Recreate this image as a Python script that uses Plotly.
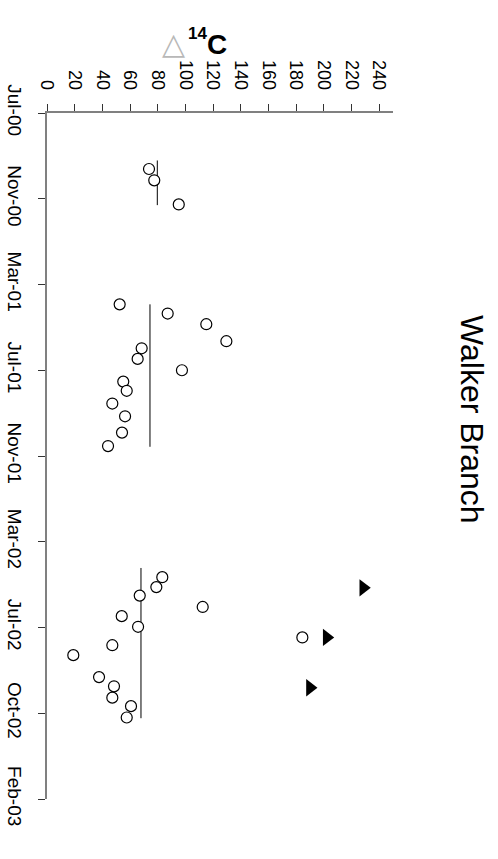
import plotly.graph_objects as go

# ---- data ----
circle_dates = [
    "2000-09-22", "2000-10-08", "2000-11-11",
    "2001-04-01", "2001-04-14", "2001-04-29", "2001-05-23", "2001-06-02", "2001-06-17",
    "2001-07-03", "2001-07-19", "2001-08-01", "2001-08-19", "2001-09-06", "2001-09-29",
    "2001-10-18",
    "2002-04-21", "2002-05-05", "2002-05-17", "2002-06-02", "2002-06-15", "2002-06-30",
    "2002-07-15", "2002-07-26", "2002-08-09", "2002-09-09", "2002-09-22", "2002-10-08",
    "2002-10-20", "2002-11-05",
]
circle_values = [
    73.7, 77.5, 95.2,
    52.5, 87.2, 115.1, 129.6, 68.4, 65.5,
    97.5, 55.1, 57.6, 47.2, 56.4, 54.2,
    44.1,
    83.3, 79.0, 67.0, 112.5, 54.0, 65.8,
    184.5, 47.2, 19.0, 37.6, 48.4, 47.2,
    60.7, 57.6,
]

triangle_dates = ["2002-05-06", "2002-07-15", "2002-09-24"]
triangle_values = [228.5, 202.1, 190.0]

mean_starts = ["2000-09-10", "2001-04-01", "2002-04-08"]
mean_ends = ["2000-11-12", "2001-10-19", "2002-11-06"]
mean_values = [79.7, 74.4, 67.9]

date_tick_vals = ["2000-07-05", "2000-11-03", "2001-03-04", "2001-07-03", "2001-11-01",
                  "2002-03-02", "2002-07-01", "2002-10-30", "2003-02-28"]
date_tick_text = ["Jul-00", "Nov-00", "Mar-01", "Jul-01", "Nov-01",
                  "Mar-02", "Jul-02", "Oct-02", "Feb-03"]
value_ticks = [0, 20, 40, 60, 80, 100, 120, 140, 160, 180, 200, 220, 240]

FONT = "Liberation Sans, Arial, sans-serif"

fig = go.Figure()

for s, e, v in zip(mean_starts, mean_ends, mean_values):
    fig.add_trace(go.Scatter(x=[v, v], y=[s, e], mode="lines",
                             line=dict(color="black", width=1), hoverinfo="skip"))

fig.add_trace(go.Scatter(
    x=circle_values, y=circle_dates, mode="markers",
    marker=dict(symbol="circle", size=11, color="white",
                line=dict(color="black", width=1.2))))

fig.add_trace(go.Scatter(
    x=triangle_values, y=triangle_dates, mode="markers",
    marker=dict(symbol="triangle-right", size=15, color="black",
                line=dict(color="black", width=0))))

fig.update_layout(
    width=498, height=859,
    margin=dict(l=47, r=105, t=113, b=60),
    paper_bgcolor="white", plot_bgcolor="white",
    showlegend=False,
    font=dict(family=FONT, color="black"),
    xaxis=dict(
        range=[0, 250], side="top", automargin=False,
        tickmode="array", tickvals=value_ticks,
        ticktext=[str(v) for v in value_ticks],
        tickangle=90, ticks="outside", ticklen=7, tickcolor="#333", tickwidth=1,
        showline=True, linecolor="#808080", linewidth=1.5,
        showgrid=False, zeroline=False,
        tickfont=dict(family=FONT, size=18, color="black"),
        ticklabelstandoff=8,
    ),
    yaxis=dict(
        type="date", automargin=False,
        range=["2003-02-28", "2000-07-05"],
        tickmode="array", tickvals=date_tick_vals, ticktext=date_tick_text,
        tickangle=90, ticks="outside", ticklen=7, tickcolor="#333", tickwidth=1,
        showline=True, linecolor="#808080", linewidth=1.5,
        showgrid=False, zeroline=False,
        tickfont=dict(family=FONT, size=19, color="black"),
        ticklabelstandoff=7,
    ),
)

def px_x(px):
    return (px - 47) / 346.0

def px_y(py):
    return (799 - py) / 686.0

fig.add_annotation(text="Walker Branch", textangle=90, showarrow=False,
                   xref="paper", yref="paper", x=px_x(472), y=px_y(419),
                   xanchor="center", yanchor="middle",
                   font=dict(family=FONT, size=32, color="black"))

fig.add_annotation(text="△", showarrow=False,
                   xref="paper", yref="paper", x=px_x(173), y=px_y(44),
                   xanchor="center", yanchor="middle",
                   font=dict(family="DejaVu Sans", size=30, color="#b8b8b8"))
fig.add_annotation(text="<b>14</b>", showarrow=False,
                   xref="paper", yref="paper", x=px_x(197), y=px_y(33),
                   xanchor="center", yanchor="middle",
                   font=dict(family=FONT, size=17, color="black"))
fig.add_annotation(text="<b>C</b>", showarrow=False,
                   xref="paper", yref="paper", x=px_x(217), y=px_y(45),
                   xanchor="center", yanchor="middle",
                   font=dict(family=FONT, size=28, color="black"))

fig.write_html("out.html")
